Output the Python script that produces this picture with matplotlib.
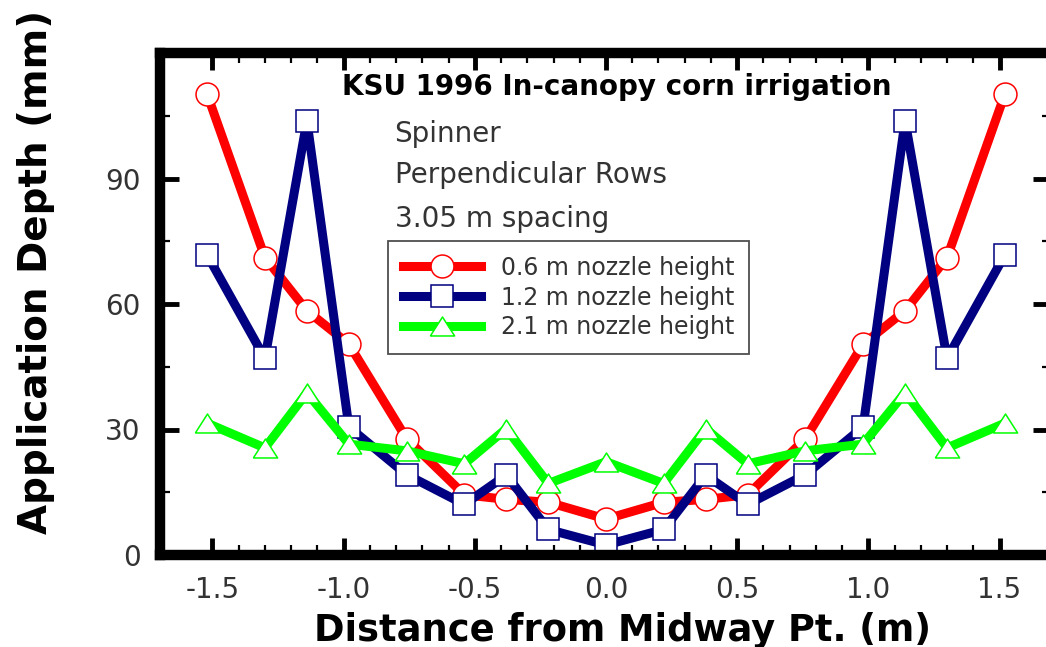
import numpy as np
import matplotlib
matplotlib.use("Agg")
import matplotlib.pyplot as plt
from matplotlib.ticker import FixedLocator

plt.rcParams['axes.unicode_minus'] = False
plt.rcParams['font.family'] = ['DejaVu Sans']

# ---- data ----
distance = [-1.52, -1.30, -1.14, -0.98, -0.76, -0.54, -0.38, -0.22, 0.0,
            0.22, 0.38, 0.54, 0.76, 0.98, 1.14, 1.30, 1.52]
depth_06 = [110.1, 71.1, 58.4, 50.4, 27.8, 14.4, 13.3, 12.6, 8.6,
            12.6, 13.3, 14.4, 27.8, 50.4, 58.4, 71.1, 110.1]
depth_12 = [71.7, 47.0, 103.8, 30.6, 19.2, 12.1, 19.1, 6.1, 2.4,
            6.1, 19.1, 12.1, 19.2, 30.6, 103.8, 47.0, 71.7]
depth_21 = [31.5, 25.6, 38.8, 26.5, 24.9, 21.8, 30.2, 17.1, 22.3,
            17.1, 30.2, 21.8, 24.9, 26.5, 38.8, 25.6, 31.5]
series_labels = ["0.6 m nozzle height", "1.2 m nozzle height", "2.1 m nozzle height"]

x_ticks = [-1.5, -1.0, -0.5, 0.0, 0.5, 1.0, 1.5]
x_ticklabels = ["-1.5", "-1.0", "-0.5", "0.0", "0.5", "1.0", "1.5"]
y_ticks = [0, 30, 60, 90]
y_ticklabels = ["0", "30", "60", "90"]

title_text = "KSU 1996 In-canopy corn irrigation"
notes = ["Spinner", "Perpendicular Rows", "3.05 m spacing"]
xlabel = "Distance from Midway Pt. (m)"
ylabel = "Application Depth (mm)"

# ---- figure ----
W, H = 1046, 647
fig = plt.figure(figsize=(W / 100, H / 100), dpi=100)
ax = fig.add_axes([160 / W, (H - 555) / H, 892 / W, 502 / H])

tri = [(-1, -0.78), (1, -0.78), (0, 0.78), (-1, -0.78)]

ax.plot(distance, depth_06, color='#ff0000', lw=6.5, marker='o', ms=16.5,
        mfc='white', mec='#ff0000', mew=1.1, label=series_labels[0])
ax.plot(distance, depth_12, color='#000080', lw=6.5, marker='s', ms=15.5,
        mfc='white', mec='#000080', mew=1.1, label=series_labels[1])
ax.plot(distance, depth_21, color='#00ff00', lw=6.5, marker=tri, ms=17.5,
        mfc='white', mec='#00ff00', mew=1.1, label=series_labels[2])

ax.set_xlim(-1.7, 1.7)
ax.set_ylim(0, 120)

for s in ax.spines.values():
    s.set_linewidth(7.5)
    s.set_color('black')

ax.xaxis.set_major_locator(FixedLocator(x_ticks))
ax.set_xticklabels(x_ticklabels)
ax.xaxis.set_minor_locator(FixedLocator([v / 10 for v in range(-15, 16) if v % 5 != 0]))
ax.yaxis.set_major_locator(FixedLocator(y_ticks))
ax.set_yticklabels(y_ticklabels)
ax.yaxis.set_minor_locator(FixedLocator([15, 45, 75, 105]))

ax.tick_params(axis='both', which='both', direction='in', top=True, right=True,
               colors='black', labelcolor='#333333')
ax.tick_params(axis='x', which='major', length=12, width=3.5, labelsize=20, pad=15)
ax.tick_params(axis='y', which='major', length=14, width=3.5, labelsize=20, pad=14)
ax.tick_params(axis='both', which='minor', length=7, width=1.6)

ax.set_xlabel(xlabel, fontsize=26.5, fontweight='bold', va='top')
ax.xaxis.set_label_coords(0.518, -0.113)
ax.set_ylabel(ylabel, fontsize=28, fontweight='bold')
ax.yaxis.set_label_coords(-0.118, 0.564)

ax.text(0.512, 0.916, title_text, transform=ax.transAxes, ha='center',
        va='baseline', fontsize=20, fontweight='bold', color='black')
for t, yy in zip(notes, [0.8233, 0.7404, 0.654]):
    ax.text(0.263, yy, t, transform=ax.transAxes, ha='left', va='baseline',
            fontsize=20, color='#333333')

leg = ax.legend(loc='upper left', bbox_to_anchor=(0.2556, 0.6255), borderaxespad=0,
                fontsize=17, frameon=True, fancybox=False, shadow=False,
                handlelength=3.3, handletextpad=0.85, labelspacing=0.25,
                borderpad=0.62)
leg.get_frame().set_edgecolor('#222222')
leg.get_frame().set_linewidth(1.3)
for t in leg.get_texts():
    t.set_color('#333333')

fig.savefig("out.png", dpi=100)
